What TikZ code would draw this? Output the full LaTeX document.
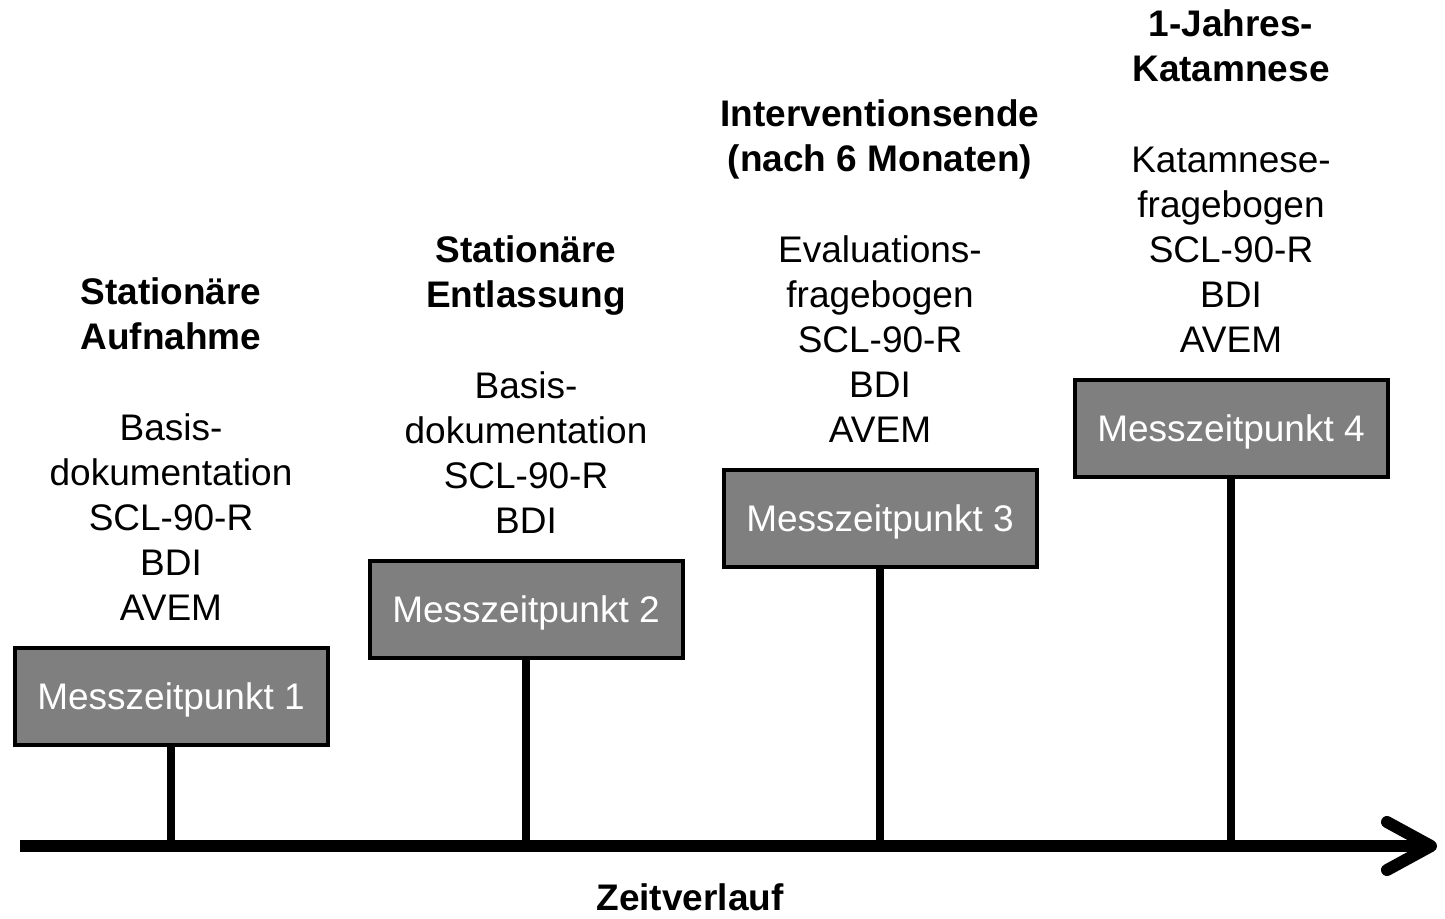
\documentclass[tikz,border=0pt]{standalone}
\usepackage{fontspec}
\setmainfont{Liberation Sans}
\definecolor{cBox}{HTML}{7F7F7F}
\usetikzlibrary{positioning,arrows.meta}

\begin{document}
\begin{tikzpicture}[x=0.5pt,y=-0.5pt,
      mzbox/.style={draw=black,line width=2pt,fill=cBox,text=white,
        minimum width=156.5pt,minimum height=48.5pt,inner sep=0pt,
        text height=13.2pt,text depth=0pt,
        font=\fontsize{18.5}{22.5}\selectfont},
      title/.style={font=\fontsize{18.5}{22.5}\selectfont\bfseries,align=center,inner sep=0pt},
      instr/.style={font=\fontsize{18.5}{22.5}\selectfont,align=center,inner sep=0pt}]
    \useasboundingbox (0,0) rectangle (1445,918);
    % time axis
    \coordinate (tstart) at (20,846);
    \coordinate (tend) at (1437,846);
    % measurement points
    \foreach \i/\x/\y in {1/171/696, 2/526/609, 3/880/518, 4/1231/428}
      \node[mzbox] (mz\i) at (\x,\y) {Messzeitpunkt \i};
    \foreach \i in {1,...,4}
      \draw[line width=4pt] (mz\i.south) -- (mz\i.south |- tstart);
    \draw[line width=6pt,-{Straight Barb[length=22pt,width=24pt,line cap=round,line join=round]}]
      (tstart) -- (tend);
    % titles and instruments
    \node[instr,above=12.5pt of mz1] (inst1) {\textbf{Stationäre}\\\textbf{Aufnahme}\\[23pt]
      Basis-\\dokumentation\\SCL-90-R\\BDI\\AVEM};
    \node[instr,above=12.5pt of mz2] (inst2) {\textbf{Stationäre}\\\textbf{Entlassung}\\[23pt]
      Basis-\\dokumentation\\SCL-90-R\\BDI};
    \node[instr,above=12.5pt of mz3] (inst3) {\textbf{Interventionsende}\\\textbf{(nach 6 Monaten)}\\[23pt]
      Evaluations-\\fragebogen\\SCL-90-R\\BDI\\AVEM};
    \node[instr,above=12.5pt of mz4] (inst4) {\textbf{1-Jahres-}\\\textbf{Katamnese}\\[23pt]
      Katamnese-\\fragebogen\\SCL-90-R\\BDI\\AVEM};
    \node[title,anchor=base] (zeit) at (690,910) {Zeitverlauf};
  \end{tikzpicture}
\end{document}
